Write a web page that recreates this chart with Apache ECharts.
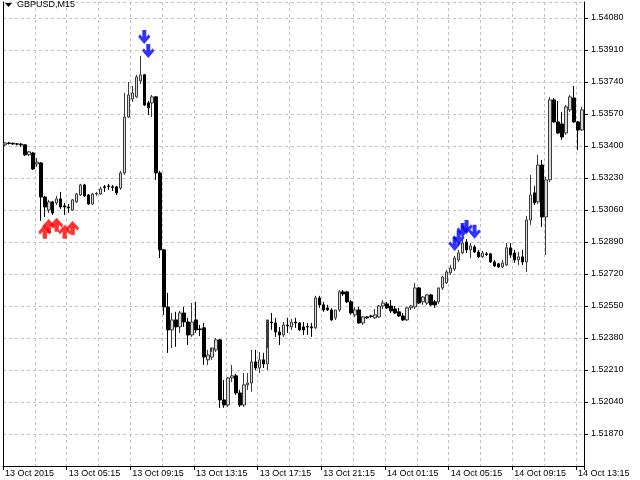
<!DOCTYPE html>
<html><head><meta charset="utf-8">
<script src="https://cdn.jsdelivr.net/npm/echarts@6/dist/echarts.min.js"></script>
<style>html,body{margin:0;padding:0;background:#fff}#c{width:640px;height:480px}</style>
</head><body><div id="c"></div>
<script>
// GBPUSD M15, 13 Oct 2015 01:15 .. 14 Oct 2015 13:30
const opens = [
1.53406,1.53416,1.53414,1.53411,1.53410,1.53406,1.53353,1.53363,1.53305,1.53310,
1.53129,1.53060,1.53103,1.53098,1.53119,1.53082,1.53076,1.53060,1.53103,1.53140,
1.53193,1.53140,1.53092,1.53145,1.53145,1.53183,1.53188,1.53183,1.53183,1.53177,
1.53257,1.53554,1.53650,1.53661,1.53746,1.53778,1.53629,1.53629,1.53661,1.53257,
1.52848,1.52545,1.52423,1.52476,1.52439,1.52513,1.52465,1.52396,1.52476,1.52428,
1.52434,1.52264,1.52279,1.52317,1.52370,1.52051,1.52024,1.52168,1.52179,1.52088,
1.52024,1.52131,1.52141,1.52253,1.52221,1.52264,1.52242,1.52465,1.52460,1.52412,
1.52396,1.52449,1.52439,1.52465,1.52460,1.52439,1.52441,1.52439,1.52434,1.52593,
1.52556,1.52540,1.52529,1.52487,1.52529,1.52625,1.52625,1.52572,1.52503,1.52529,
1.52460,1.52492,1.52497,1.52487,1.52492,1.52550,1.52561,1.52550,1.52534,1.52519,
1.52497,1.52476,1.52540,1.52545,1.52646,1.52572,1.52566,1.52609,1.52572,1.52572,
1.52646,1.52673,1.52726,1.52747,1.52795,1.52832,1.52890,1.52848,1.52864,1.52837,
1.52811,1.52827,1.52827,1.52784,1.52774,1.52758,1.52768,1.52859,1.52832,1.52795,
1.52811,1.52784,1.53007,1.53151,1.53103,1.53299,1.53023,1.53220,1.53645,1.53528,
1.53517,1.53469,1.53592,1.53655,1.53528,1.53485];
const highs = [
1.53422,1.53422,1.53419,1.53416,1.53416,1.53408,1.53374,1.53369,1.53337,1.53315,
1.53135,1.53114,1.53108,1.53135,1.53156,1.53098,1.53092,1.53119,1.53151,1.53199,
1.53199,1.53145,1.53151,1.53156,1.53183,1.53193,1.53199,1.53193,1.53188,1.53268,
1.53682,1.53740,1.53719,1.53778,1.53879,1.53783,1.53639,1.53671,1.53666,1.53268,
1.52853,1.52619,1.52513,1.52519,1.52524,1.52545,1.52487,1.52566,1.52572,1.52449,
1.52460,1.52317,1.52306,1.52380,1.52375,1.52157,1.52173,1.52237,1.52189,1.52104,
1.52194,1.52194,1.52317,1.52317,1.52306,1.52301,1.52327,1.52513,1.52487,1.52439,
1.52465,1.52487,1.52481,1.52487,1.52465,1.52465,1.52460,1.52460,1.52604,1.52604,
1.52572,1.52556,1.52540,1.52529,1.52635,1.52635,1.52630,1.52582,1.52545,1.52545,
1.52497,1.52497,1.52503,1.52534,1.52556,1.52582,1.52572,1.52582,1.52550,1.52540,
1.52513,1.52545,1.52556,1.52673,1.52651,1.52604,1.52614,1.52614,1.52582,1.52646,
1.52710,1.52742,1.52768,1.52816,1.52848,1.52901,1.52906,1.52885,1.52874,1.52848,
1.52843,1.52837,1.52832,1.52795,1.52779,1.52795,1.52885,1.52885,1.52848,1.52837,
1.52848,1.53029,1.53246,1.53188,1.53353,1.53326,1.53236,1.53661,1.53655,1.53639,
1.53581,1.53618,1.53671,1.53719,1.53533,1.53608];
const lows = [
1.53400,1.53408,1.53406,1.53403,1.53395,1.53347,1.53347,1.53273,1.53289,1.53002,
1.53023,1.53044,1.53034,1.53087,1.53066,1.53034,1.53044,1.53055,1.53098,1.53135,
1.53129,1.53087,1.53087,1.53135,1.53140,1.53156,1.53167,1.53161,1.53140,1.53167,
1.53246,1.53549,1.53634,1.53655,1.53730,1.53613,1.53565,1.53554,1.53220,1.52805,
1.52503,1.52301,1.52327,1.52333,1.52407,1.52439,1.52343,1.52386,1.52407,1.52391,
1.52237,1.52237,1.52264,1.52306,1.52009,1.52009,1.52014,1.52147,1.52078,1.52014,
1.52014,1.52104,1.52094,1.52210,1.52194,1.52221,1.52210,1.52423,1.52386,1.52343,
1.52386,1.52407,1.52423,1.52434,1.52418,1.52396,1.52396,1.52386,1.52428,1.52540,
1.52519,1.52524,1.52471,1.52476,1.52519,1.52604,1.52566,1.52503,1.52492,1.52455,
1.52449,1.52481,1.52487,1.52481,1.52487,1.52534,1.52534,1.52513,1.52508,1.52492,
1.52471,1.52471,1.52529,1.52534,1.52561,1.52556,1.52556,1.52550,1.52540,1.52561,
1.52635,1.52667,1.52715,1.52736,1.52784,1.52827,1.52832,1.52805,1.52832,1.52805,
1.52805,1.52816,1.52779,1.52758,1.52752,1.52752,1.52763,1.52805,1.52779,1.52768,
1.52768,1.52731,1.52981,1.53087,1.53092,1.52970,1.52821,1.53209,1.53523,1.53464,
1.53432,1.53459,1.53581,1.53523,1.53379,1.53480];
const closes = [
1.53416,1.53414,1.53411,1.53410,1.53406,1.53353,1.53369,1.53278,1.53315,1.53129,
1.53076,1.53103,1.53044,1.53119,1.53076,1.53076,1.53071,1.53114,1.53145,1.53193,
1.53135,1.53092,1.53145,1.53148,1.53172,1.53180,1.53185,1.53180,1.53151,1.53257,
1.53554,1.53671,1.53682,1.53767,1.53778,1.53618,1.53603,1.53661,1.53257,1.52848,
1.52545,1.52423,1.52476,1.52439,1.52513,1.52465,1.52396,1.52465,1.52423,1.52425,
1.52279,1.52290,1.52327,1.52370,1.52051,1.52024,1.52168,1.52179,1.52088,1.52024,
1.52131,1.52141,1.52253,1.52221,1.52264,1.52242,1.52476,1.52460,1.52412,1.52396,
1.52449,1.52444,1.52465,1.52460,1.52423,1.52423,1.52439,1.52434,1.52593,1.52556,
1.52529,1.52529,1.52476,1.52529,1.52625,1.52614,1.52572,1.52513,1.52529,1.52460,
1.52492,1.52487,1.52495,1.52503,1.52550,1.52566,1.52540,1.52524,1.52513,1.52497,
1.52476,1.52540,1.52550,1.52646,1.52566,1.52598,1.52609,1.52556,1.52556,1.52646,
1.52704,1.52731,1.52752,1.52805,1.52832,1.52885,1.52848,1.52869,1.52837,1.52811,
1.52832,1.52824,1.52784,1.52763,1.52758,1.52779,1.52859,1.52821,1.52795,1.52811,
1.52784,1.53007,1.53140,1.53098,1.53299,1.53023,1.53220,1.53645,1.53528,1.53469,
1.53448,1.53608,1.53661,1.53528,1.53485,1.53592];

// arrow signals (bar index, price)
const sellIdx = [35, 36, 113, 114, 115, 116, 118];
const sellPrice = [1.53979, 1.53905, 1.52880, 1.52912, 1.52954, 1.52970, 1.52944];
const buyIdx = [10, 11, 13, 15, 17];
const buyPrice = [1.52944, 1.52975, 1.52981, 1.52944, 1.52965];

const xTickLabels = ['13 Oct 2015','13 Oct 05:15','13 Oct 09:15','13 Oct 13:15','13 Oct 17:15',
  '13 Oct 21:15','14 Oct 01:15','14 Oct 05:15','14 Oct 09:15','14 Oct 13:15'];

const MONTHS = ['Jan','Feb','Mar','Apr','May','Jun','Jul','Aug','Sep','Oct','Nov','Dec'];
const categories = [];
const t0 = Date.UTC(2015, 9, 13, 1, 15);
for (let i = 0; i < opens.length; i++) {
  const d = new Date(t0 + i * 15 * 60000);
  const p = n => String(n).padStart(2, '0');
  categories.push(d.getUTCDate() + ' ' + MONTHS[d.getUTCMonth()] + ' ' + p(d.getUTCHours()) + ':' + p(d.getUTCMinutes()));
}

const candleData = opens.map((o, i) => [o, closes[i], lows[i], highs[i]]);
const sellData = sellIdx.map((k, i) => [k, sellPrice[i]]);
const buyData = buyIdx.map((k, i) => [k, buyPrice[i]]);

const FONT = 'Liberation Sans';
const downArrow = 'path://M4,0H8V6.5L10.5,4L12,6.5L6,13L0,6.5L1.5,4L4,6.5Z';
const upArrow = 'path://M6,0L12,6.5L10.5,9L8,6.5V13H4V6.5L1.5,9L0,6.5Z';

const chart = echarts.init(document.getElementById('c'), null, {renderer: 'canvas'});
chart.setOption({
  animation: false,
  backgroundColor: '#ffffff',
  title: {
    text: 'GBPUSD,M15', left: 17, top: 0, padding: 0,
    textStyle: {fontSize: 9, fontWeight: 'normal', color: '#000', fontFamily: FONT}
  },
  graphic: [{type: 'polygon', shape: {points: [[5, 3], [12, 3], [8.5, 7]]}, style: {fill: '#000'}}],
  grid: {left: 3, right: 56, top: 2, bottom: 14},
  xAxis: {
    type: 'category', data: categories, boundaryGap: true,
    axisLine: {show: true, lineStyle: {color: '#000', width: 1}},
    axisTick: {show: true, interval: i => i % 16 === 0, length: 4, lineStyle: {color: '#000'}},
    axisLabel: {
      interval: i => i % 16 === 0,
      formatter: (v, i) => xTickLabels[i / 16] || '',
      align: 'left', margin: 3, fontSize: 9, color: '#000', fontFamily: FONT, hideOverlap: false
    },
    splitLine: {show: true, interval: i => i % 8 === 0, lineStyle: {color: '#c0c0c0', type: [3, 3], width: 1}}
  },
  yAxis: [{
    type: 'value', position: 'right', min: 1.517, max: 1.54165, interval: 0.0017,
    axisLine: {show: true, lineStyle: {color: '#000'}},
    axisTick: {show: true, length: 4, lineStyle: {color: '#000'}},
    axisLabel: {formatter: v => v.toFixed(5), margin: 7, fontSize: 9, color: '#000', fontFamily: FONT,
      showMinLabel: false, showMaxLabel: false},
    splitLine: {show: true, lineStyle: {color: '#c0c0c0', type: [3, 3], width: 1}}
  }, {
    type: 'value', position: 'left', min: 1.517, max: 1.54165,
    axisLine: {show: true, lineStyle: {color: '#000'}},
    axisTick: {show: false}, axisLabel: {show: false}, splitLine: {show: false}
  }],
  series: [{
    type: 'candlestick', data: candleData, barWidth: 3,
    itemStyle: {color: '#d8d8d8', color0: '#000000', borderColor: '#3a3a3a', borderColor0: '#000000', borderWidth: 1}
  }, {
    type: 'scatter', data: sellData, symbol: downArrow, symbolSize: [12, 14], z: 5,
    itemStyle: {color: '#0000ff'}
  }, {
    type: 'scatter', data: buyData, symbol: upArrow, symbolSize: [13, 14], z: 5,
    itemStyle: {color: '#ff0000'}
  }]
});
</script></body></html>
